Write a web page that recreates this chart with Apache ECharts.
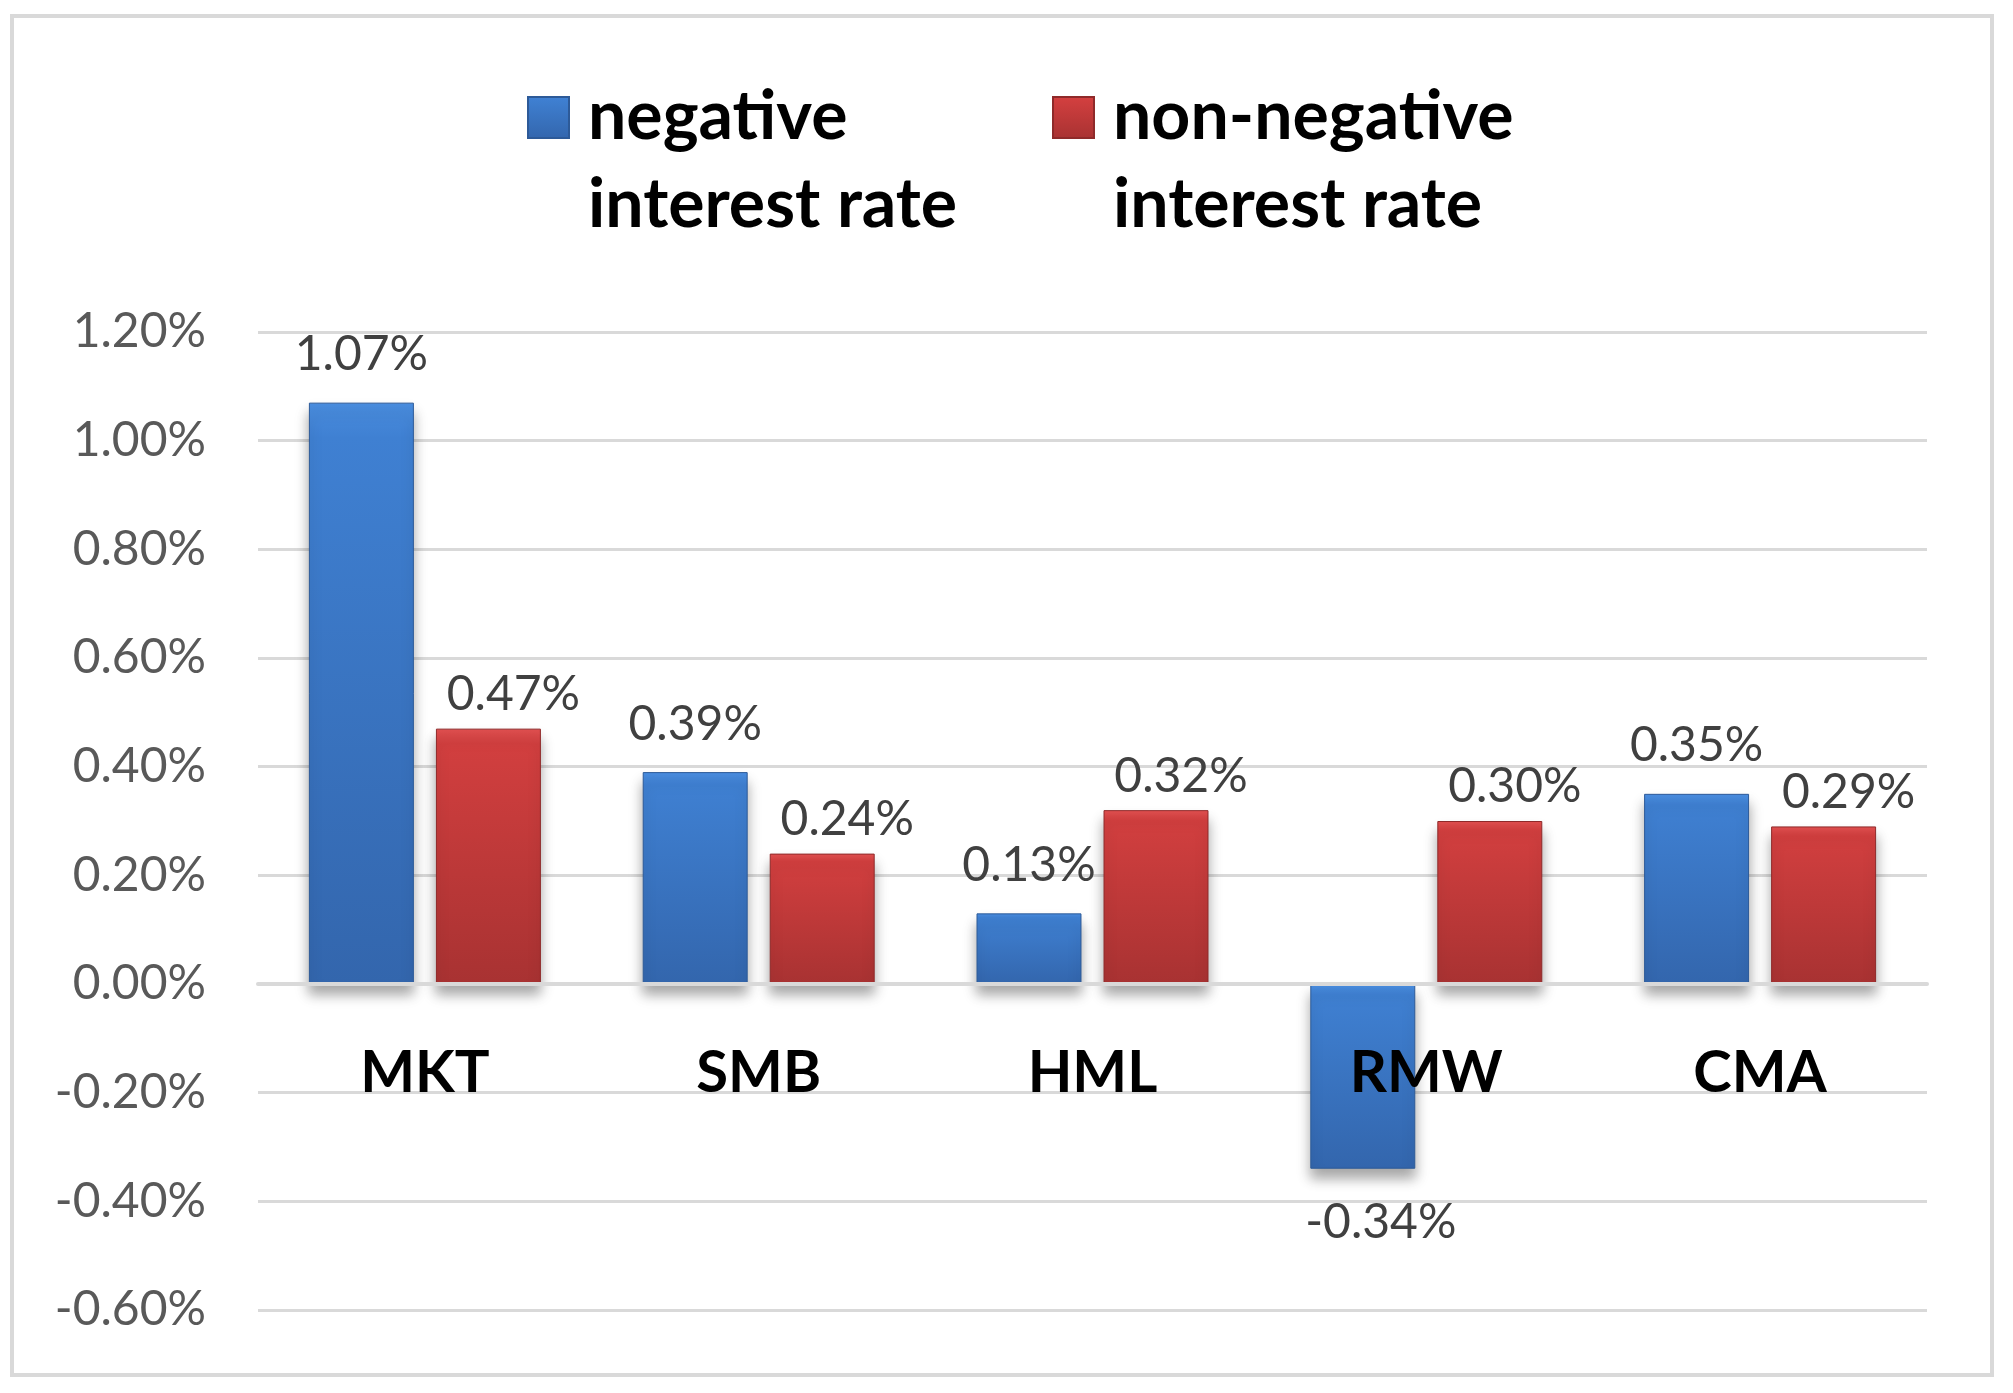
<!DOCTYPE html>
<html>
<head>
<meta charset="utf-8">
<script src="https://cdn.jsdelivr.net/npm/echarts@6/dist/echarts.min.js"></script>
<style>
html,body{margin:0;padding:0;background:#fff;}
#chart{width:2013px;height:1393px;}
</style>
</head>
<body>
<div id="chart"></div>
<script>
var categories = ['MKT', 'SMB', 'HML', 'RMW', 'CMA'];
var negativeRate = [1.07, 0.39, 0.13, -0.34, 0.35];
var nonNegativeRate = [0.47, 0.24, 0.32, 0.30, 0.29];
var seriesNames = ['negative\ninterest rate', 'non-negative\ninterest rate'];
var yTicks = { min: -0.6, max: 1.2, interval: 0.2 };

var FONT = 'Lato';
function pct(v) { return Number(v).toFixed(2) + '%'; }

var blueFill = new echarts.graphic.LinearGradient(0, 0, 0, 1, [
  { offset: 0, color: '#4a8ee0' },
  { offset: 0.06, color: '#3f80d2' },
  { offset: 1, color: '#3366ad' }
]);
var redFill = new echarts.graphic.LinearGradient(0, 0, 0, 1, [
  { offset: 0, color: '#e05050' },
  { offset: 0.06, color: '#d23f3f' },
  { offset: 1, color: '#a83232' }
]);

var legendText = {
  fontFamily: FONT, fontWeight: 'bold', fontSize: 68, color: '#000',
  lineHeight: 88, padding: [0, 0, 0, 14]
};

function labelFor(distTop, offX) {
  return {
    show: true, position: 'top', distance: distTop, offset: [offX, 0],
    fontFamily: FONT, fontSize: 48, color: '#404040',
    formatter: function (p) { return pct(p.value); }
  };
}
function toData(arr) {
  return arr.map(function (v) {
    return v < 0 ? { value: v, label: { position: 'bottom', distance: 30, offset: [18, 0] } } : v;
  });
}

var chart = echarts.init(document.getElementById('chart'));
chart.setOption({
  backgroundColor: '#fff',
  animation: false,
  graphic: [{
    type: 'rect', silent: true,
    shape: { x: 12, y: 16, width: 1980, height: 1359 },
    style: { fill: 'none', stroke: '#d9d9d9', lineWidth: 4 }
  }],
  legend: [{
    data: [seriesNames[0]], left: 527, top: -14.5, padding: 0,
    itemWidth: 41, itemHeight: 41, icon: 'rect',
    formatter: function (n) { return '\n' + n; },
    textStyle: legendText
  }, {
    data: [seriesNames[1]], left: 1052, top: -14.5, padding: 0,
    itemWidth: 41, itemHeight: 41, icon: 'rect',
    formatter: function (n) { return '\n' + n; },
    textStyle: legendText
  }],
  grid: { left: 258, right: 86, top: 332, bottom: 83 },
  xAxis: {
    type: 'category', data: categories, z: 10, offset: -326,
    axisLine: { show: true, onZero: false, lineStyle: { color: '#d9d9d9', width: 4 } },
    axisTick: { show: false },
    axisLabel: { margin: 60, fontFamily: FONT, fontWeight: 'bold', fontSize: 58, color: '#000' }
  },
  yAxis: {
    type: 'value', min: yTicks.min, max: yTicks.max, interval: yTicks.interval,
    axisLine: { show: false }, axisTick: { show: false },
    splitLine: { lineStyle: { color: '#d9d9d9', width: 3 } },
    axisLabel: { margin: 52, fontFamily: FONT, fontSize: 48, color: '#595959',
      formatter: function (v) { return pct(v); } }
  },
  series: [{
    name: seriesNames[0], type: 'bar', data: toData(negativeRate),
    barGap: '21%', barCategoryGap: '30.5%',
    itemStyle: { color: blueFill, borderColor: '#2d5a98', borderWidth: 1,
      shadowColor: 'rgba(0,0,0,0.35)', shadowBlur: 12, shadowOffsetY: 10 },
    label: labelFor(24, 0)
  }, {
    name: seriesNames[1], type: 'bar', data: toData(nonNegativeRate),
    barGap: '21%', barCategoryGap: '30.5%',
    itemStyle: { color: redFill, borderColor: '#8f2a2a', borderWidth: 1,
      shadowColor: 'rgba(0,0,0,0.35)', shadowBlur: 12, shadowOffsetY: 10 },
    label: labelFor(10, 25)
  }]
});
</script>
</body>
</html>
